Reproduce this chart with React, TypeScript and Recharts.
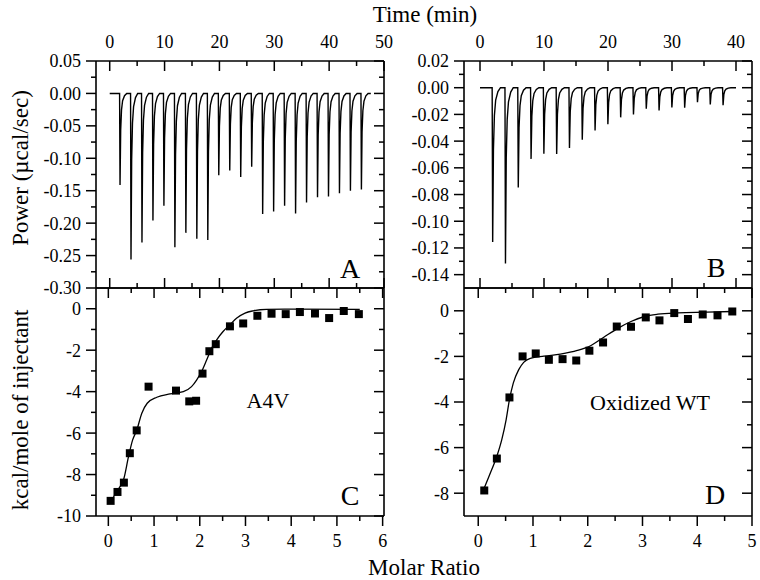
import React from 'react';
import { ComposedChart, Line, Scatter, XAxis, YAxis } from 'recharts';

const FONT = '"Liberation Serif", "Times New Roman", Times, serif';

// ---------- Panel A: raw thermogram, A4V ----------
const injTimesA = [1.8, 3.8, 5.8, 7.8, 9.8, 11.8, 13.8, 15.8, 17.8, 19.8, 21.8, 23.8, 25.8, 27.8, 29.8, 31.8, 33.8, 35.8, 37.8, 39.8, 41.8, 43.8, 45.8];
const peakPowerA = [-0.141, -0.256, -0.23, -0.196, -0.173, -0.237, -0.215, -0.224, -0.226, -0.126, -0.119, -0.129, -0.113, -0.186, -0.182, -0.173, -0.185, -0.168, -0.16, -0.159, -0.154, -0.15, -0.148];
const traceEndA = 47.6;

// ---------- Panel B: raw thermogram, oxidized WT ----------
const injTimesB = [1.9, 3.9, 5.9, 7.9, 9.9, 11.9, 13.9, 15.9, 17.9, 19.9, 21.9, 23.9, 25.9, 27.9, 29.9, 31.9, 33.9, 35.9, 37.9];
const peakPowerB = [-0.1156, -0.1316, -0.0748, -0.0533, -0.0494, -0.0496, -0.0452, -0.039, -0.032, -0.0274, -0.0222, -0.02, -0.0158, -0.017, -0.0148, -0.015, -0.0109, -0.0126, -0.0131];
const traceEndB = 40;

// shape of one injection peak: [minutes after injection, fraction of peak depth]
const peakShape = [[0, 0], [0.08, 1], [0.2, 0.4], [0.35, 0.18], [0.55, 0.08], [0.9, 0.025], [1.3, 0]];

// ---------- Panel C: integrated heats, A4V ----------
const ratioC = [0.05, 0.2, 0.34, 0.47, 0.62, 0.88, 1.48, 1.77, 1.92, 2.06, 2.21, 2.35, 2.66, 2.95, 3.26, 3.57, 3.88, 4.19, 4.52, 4.83, 5.15, 5.48];
const heatC = [-9.27, -8.84, -8.39, -6.97, -5.87, -3.76, -3.95, -4.47, -4.44, -3.13, -2.05, -1.71, -0.85, -0.71, -0.34, -0.24, -0.26, -0.16, -0.23, -0.45, -0.11, -0.26];
const fitRatioC = [0.05, 0.2, 0.34, 0.44, 0.53, 0.62, 0.73, 0.85, 1.06, 1.35, 1.64, 1.82, 1.93, 2.04, 2.15, 2.26, 2.37, 2.51, 2.66, 2.81, 2.99, 3.17, 3.46, 4.05, 5.5];
const fitHeatC = [-9.32, -8.76, -8.19, -7.15, -6.34, -5.87, -5.05, -4.56, -4.27, -4.11, -4.0, -3.76, -3.44, -3.03, -2.47, -1.9, -1.5, -1.1, -0.77, -0.45, -0.21, -0.1, -0.03, -0.02, -0.03];

// ---------- Panel D: integrated heats, oxidized WT ----------
const ratioD = [0.11, 0.34, 0.57, 0.81, 1.05, 1.29, 1.54, 1.79, 2.03, 2.28, 2.53, 2.79, 3.06, 3.31, 3.58, 3.83, 4.1, 4.37, 4.64];
const heatD = [-7.88, -6.48, -3.8, -2.0, -1.87, -2.15, -2.12, -2.18, -1.75, -1.39, -0.69, -0.7, -0.29, -0.42, -0.1, -0.36, -0.16, -0.2, -0.03];
const fitRatioD = [0.11, 0.21, 0.34, 0.43, 0.51, 0.57, 0.64, 0.74, 0.83, 0.95, 1.2, 1.5, 1.81, 2.06, 2.3, 2.55, 2.79, 3.04, 3.28, 3.65, 4.14, 4.64];
const fitHeatD = [-7.77, -7.18, -6.38, -5.65, -4.77, -3.9, -3.17, -2.58, -2.26, -2.09, -1.99, -1.9, -1.74, -1.52, -1.15, -0.77, -0.47, -0.25, -0.15, -0.09, -0.06, -0.03];

// ---------- ticks ----------
const timeMajorA = [0, 10, 20, 30, 40, 50];
const timeMinorA = [5, 15, 25, 35, 45];
const powerMajorA = [0.05, 0, -0.05, -0.1, -0.15, -0.2, -0.25, -0.3];
const powerMinorA = [0.025, -0.025, -0.075, -0.125, -0.175, -0.225, -0.275];
const timeMajorB = [0, 10, 20, 30, 40];
const timeMinorB = [5, 15, 25, 35];
const powerMajorB = [0.02, 0, -0.02, -0.04, -0.06, -0.08, -0.1, -0.12, -0.14];
const powerMinorB = [0.01, -0.01, -0.03, -0.05, -0.07, -0.09, -0.11, -0.13];
const ratioMajorC = [0, 1, 2, 3, 4, 5, 6];
const ratioMinorC = [0.5, 1.5, 2.5, 3.5, 4.5, 5.5];
const heatMajorC = [0, -2, -4, -6, -8, -10];
const heatMinorC = [-1, -3, -5, -7, -9];
const ratioMajorD = [0, 1, 2, 3, 4, 5];
const ratioMinorD = [0.5, 1.5, 2.5, 3.5, 4.5];
const heatMajorD = [0, -2, -4, -6, -8];
const heatMinorD = [-1, -3, -5, -7];

function buildTrace(times: number[], peaks: number[], end: number) {
  const pts: { t: number; p: number }[] = [{ t: 0, p: 0 }];
  times.forEach((t0, i) => {
    peakShape.forEach(([dt, f]) => pts.push({ t: t0 + dt, p: peaks[i] * f }));
  });
  pts.push({ t: end, p: 0 });
  return pts;
}
const zipXY = (xs: number[], ys: number[]) => xs.map((x, i) => ({ x, y: ys[i] }));

const traceA = buildTrace(injTimesA, peakPowerA, traceEndA);
const traceB = buildTrace(injTimesB, peakPowerB, traceEndB);
const pointsC = zipXY(ratioC, heatC);
const fitC = zipXY(fitRatioC, fitHeatC);
const pointsD = zipXY(ratioD, heatD);
const fitD = zipXY(fitRatioD, fitHeatD);

const merge = (a: number[], b: number[]) => [...a, ...b].sort((p, q) => p - q);

type Side = 'left' | 'right' | 'top' | 'bottom';
function tickRenderer(side: Side, majors: number[], outward: boolean, fmt?: (v: number) => string) {
  return (props: any) => {
    const { x, y, payload } = props;
    const v = Number(payload.value);
    const major = majors.some((m) => Math.abs(m - v) < 1e-9);
    const len = major ? 10 : 5;
    const s = outward ? 1 : -1;
    let x2 = x;
    let y2 = y;
    if (side === 'left') x2 = x - s * len;
    if (side === 'right') x2 = x + s * len;
    if (side === 'top') y2 = y - s * len;
    if (side === 'bottom') y2 = y + s * len;
    let label: React.ReactNode = null;
    if (major && fmt) {
      const common = { fontFamily: FONT, fontSize: 18, fill: '#000' };
      if (side === 'left')
        label = <text x={x - 15} y={y} dy="0.36em" textAnchor="end" {...common}>{fmt(v)}</text>;
      if (side === 'top')
        label = <text x={x} y={y - 13} textAnchor="middle" {...common}>{fmt(v)}</text>;
      if (side === 'bottom')
        label = <text x={x} y={y + 31} textAnchor="middle" {...common}>{fmt(v)}</text>;
    }
    return (
      <g>
        <line x1={x} y1={y} x2={x2} y2={y2} stroke="#000" strokeWidth={1.5} />
        {label}
      </g>
    );
  };
}

const axisLine = { stroke: '#000', strokeWidth: 1.6 };
const fixed2 = (v: number) => v.toFixed(2);
const plain = (v: number) => String(Math.round(v * 100) / 100 + 0);

function axes(
  xDomain: [number, number], yDomain: [number, number],
  xMajor: number[], xMinor: number[], yMajor: number[], yMinor: number[],
  xLabelSide: 'top' | 'bottom', xFmt: (v: number) => string, yFmt: (v: number) => string,
  xKey: string, yKey: string,
) {
  const xt = merge(xMajor, xMinor);
  const yt = merge(yMajor, yMinor);
  const other = xLabelSide === 'top' ? 'bottom' : 'top';
  return [
    <XAxis key="xm" xAxisId="m" orientation={xLabelSide} type="number" dataKey={xKey} domain={xDomain} allowDataOverflow
      ticks={xt} interval={0} height={1} tickSize={0} tickMargin={0} tickLine={false} axisLine={axisLine}
      tick={tickRenderer(xLabelSide, xMajor, xLabelSide === 'bottom', xFmt)} />,
    <XAxis key="xo" xAxisId="o" orientation={other} type="number" dataKey={xKey} domain={xDomain} allowDataOverflow
      ticks={xt} interval={0} height={1} tickSize={0} tickMargin={0} tickLine={false} axisLine={axisLine}
      tick={tickRenderer(other, xMajor, false)} />,
    <YAxis key="ym" yAxisId="m" orientation="left" type="number" dataKey={yKey} domain={yDomain} allowDataOverflow
      ticks={yt} interval={0} width={1} tickSize={0} tickMargin={0} tickLine={false} axisLine={axisLine}
      tick={tickRenderer('left', yMajor, true, yFmt)} />,
    <YAxis key="yo" yAxisId="o" orientation="right" type="number" dataKey={yKey} domain={yDomain} allowDataOverflow
      ticks={yt} interval={0} width={1} tickSize={0} tickMargin={0} tickLine={false} axisLine={axisLine}
      tick={tickRenderer('right', yMajor, false)} />,
  ];
}

const layer: React.CSSProperties = { position: 'absolute', left: 0, top: 0 };
const W = 760;
const H = 580;

export default function App() {
  return (
    <div style={{ position: 'absolute', left: 0, top: 0, width: W, height: H, background: '#fff', overflow: 'hidden' }}>
      {/* A */}
      <div style={layer}>
        <ComposedChart width={W} height={H} margin={{ top: 60, left: 95, right: 375, bottom: 291 }}>
          {axes([-2.5, 50], [-0.3, 0.05], timeMajorA, timeMinorA, powerMajorA, powerMinorA, 'top', plain, fixed2, 't', 'p')}
          <Line xAxisId="m" yAxisId="m" data={traceA} dataKey="p" type="linear" stroke="#000" strokeWidth={1.4} dot={false} activeDot={false} isAnimationActive={false} />
        </ComposedChart>
      </div>
      {/* B */}
      <div style={layer}>
        <ComposedChart width={W} height={H} margin={{ top: 60, left: 463, right: 7, bottom: 291 }}>
          {axes([-2.5, 42.5], [-0.15, 0.02], timeMajorB, timeMinorB, powerMajorB, powerMinorB, 'top', plain, fixed2, 't', 'p')}
          <Line xAxisId="m" yAxisId="m" data={traceB} dataKey="p" type="linear" stroke="#000" strokeWidth={1.4} dot={false} activeDot={false} isAnimationActive={false} />
        </ComposedChart>
      </div>
      {/* C */}
      <div style={layer}>
        <ComposedChart width={W} height={H} margin={{ top: 287, left: 95, right: 375, bottom: 63 }}>
          {axes([-0.27, 6.03], [-10, 1], ratioMajorC, ratioMinorC, heatMajorC, heatMinorC, 'bottom', plain, plain, 'x', 'y')}
          <Line xAxisId="m" yAxisId="m" data={fitC} dataKey="y" type="monotone" stroke="#000" strokeWidth={1.3} dot={false} activeDot={false} isAnimationActive={false} />
          <Scatter xAxisId="m" yAxisId="m" data={pointsC} fill="#000" shape="square" isAnimationActive={false} />
        </ComposedChart>
      </div>
      {/* D */}
      <div style={layer}>
        <ComposedChart width={W} height={H} margin={{ top: 287, left: 463, right: 7, bottom: 63 }}>
          {axes([-0.26, 5], [-9, 1], ratioMajorD, ratioMinorD, heatMajorD, heatMinorD, 'bottom', plain, plain, 'x', 'y')}
          <Line xAxisId="m" yAxisId="m" data={fitD} dataKey="y" type="monotone" stroke="#000" strokeWidth={1.3} dot={false} activeDot={false} isAnimationActive={false} />
          <Scatter xAxisId="m" yAxisId="m" data={pointsD} fill="#000" shape="square" isAnimationActive={false} />
        </ComposedChart>
      </div>
      {/* titles and panel labels */}
      <svg width={W} height={H} style={{ ...layer, pointerEvents: 'none' }} fontFamily={FONT} fill="#000">
        <text x={425} y={22} fontSize={23} textAnchor="middle">Time (min)</text>
        <text x={424} y={575} fontSize={23} textAnchor="middle">Molar Ratio</text>
        <text x={28} y={168} fontSize={23} textAnchor="middle" transform="rotate(-90 28 168)">Power (µcal/sec)</text>
        <text x={28} y={410} fontSize={23} textAnchor="middle" transform="rotate(-90 28 410)">kcal/mole of injectant</text>
        <text x={350} y={278} fontSize={28} textAnchor="middle">A</text>
        <text x={716} y={277} fontSize={28} textAnchor="middle">B</text>
        <text x={350} y={505} fontSize={28} textAnchor="middle">C</text>
        <text x={715} y={504} fontSize={28} textAnchor="middle">D</text>
        <text x={268} y={408} fontSize={22} textAnchor="middle">A4V</text>
        <text x={650} y={410} fontSize={22} textAnchor="middle">Oxidized WT</text>
      </svg>
    </div>
  );
}
